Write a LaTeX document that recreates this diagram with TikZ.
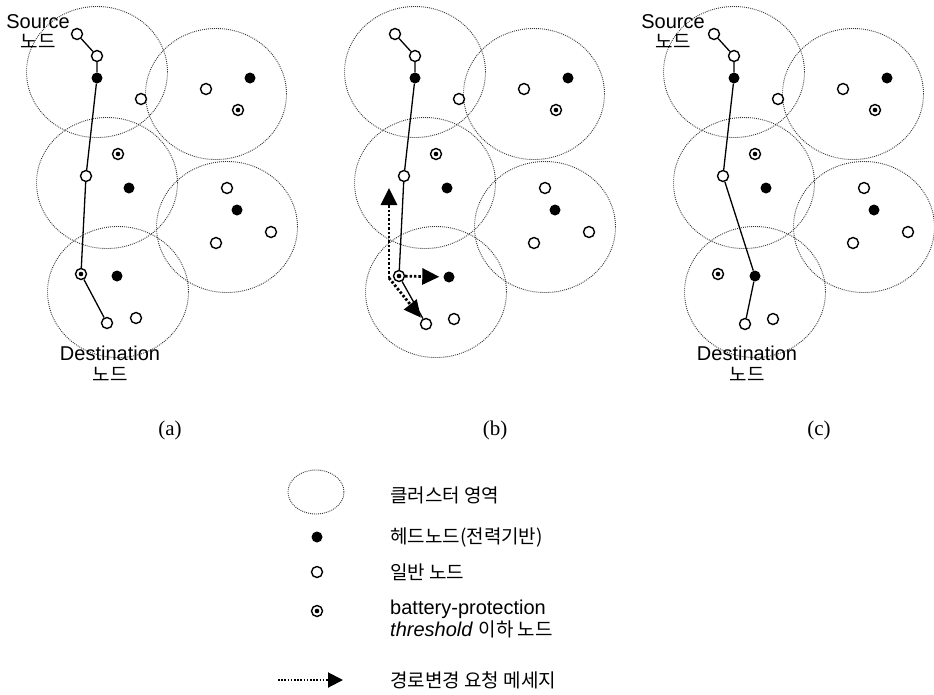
\documentclass[tikz,border=0pt]{standalone}
\usepackage{fontspec}
\setmainfont{Liberation Sans}
\newfontfamily\kr{Noto Sans CJK KR}
\newfontfamily\capfont{Liberation Serif}
\usetikzlibrary{shapes.geometric,arrows.meta,positioning}

\tikzset{
  cluster/.style={ellipse, draw=black!80, dash pattern=on 0.9pt off 1.1pt, line width=0.9pt, minimum width=141pt, minimum height=131pt, inner sep=0pt},
  opennode/.style={circle, draw, fill=white, line width=1.4pt, minimum size=11pt, inner sep=0pt},
  headnode/.style={circle, fill=black, minimum size=11pt, inner sep=0pt},
  lownode/.style={opennode, path picture={\fill[black] (path picture bounding box.center) circle (2.3pt);}},
  route/.style={line width=1.3pt},
  msg/.style={line width=2.8pt, dash pattern=on 2.4pt off 2pt, -{Triangle[length=17pt,width=16pt]}},
  legmsg/.style={line width=2pt, dash pattern=on 1.6pt off 1.6pt, -{Triangle[length=15pt,width=15pt]}},
  txt/.style={font=\fontsize{20}{20}\selectfont, inner sep=0pt},
  krtxt/.style={font=\kr\fontsize{19}{19}\selectfont, inner sep=0pt},
  captxt/.style={font=\capfont\fontsize{21}{21}\selectfont, inner sep=0pt},
}

\begin{document}
\begin{tikzpicture}[x=1pt, y=-1pt]
\useasboundingbox (0,0) rectangle (934,694);

% Panel (a)
\node[cluster] (a-c1) at (97,72) {};
\node[cluster] (a-c2) at (216,94) {};
\node[cluster] (a-c3) at (107,183) {};
\node[cluster] (a-c4) at (227,227) {};
\node[cluster] (a-c5) at (118,292) {};

\node[opennode] (a-s) at (77,34) {};
\node[opennode] (a-n1) at (97,56) {};
\node[headnode] (a-h1) at (97,78) {};
\node[opennode] (a-n2) at (141,99) {};
\node[headnode] (a-h2) at (250,78) {};
\node[opennode] (a-n3) at (206,89) {};
\node[lownode] (a-t1) at (238,110) {};
\node[lownode] (a-t2) at (118,154) {};
\node[opennode] (a-n4) at (86,176) {};
\node[headnode] (a-h3) at (129,188) {};
\node[opennode] (a-n5) at (227,188) {};
\node[headnode] (a-h4) at (237,210) {};
\node[opennode] (a-n6) at (271,232) {};
\node[opennode] (a-n7) at (216,243) {};
\node[lownode] (a-t3) at (81,274) {};
\node[headnode] (a-h5) at (117,276) {};
\node[opennode] (a-d) at (107,323) {};
\node[opennode] (a-n8) at (136,318) {};

\draw[route] (a-s) -- (a-n1) -- (a-h1) -- (a-n4) -- (a-t3) -- (a-d);

\node[txt] (a-src) at (38,22) {Source};
\node[krtxt, below=5pt of a-src] (a-srck) {노드};
\node[txt] (a-dst) at (110,353) {Destination};
\node[krtxt, below=6pt of a-dst] (a-dstk) {노드};

% Panel (b)
\begin{scope}[xshift=318pt]
\node[cluster] (b-c1) at (97,72) {};
\node[cluster] (b-c2) at (216,94) {};
\node[cluster] (b-c3) at (107,183) {};
\node[cluster] (b-c4) at (227,227) {};
\node[cluster] (b-c5) at (118,292) {};

\node[opennode] (b-s) at (77,34) {};
\node[opennode] (b-n1) at (97,56) {};
\node[headnode] (b-h1) at (97,78) {};
\node[opennode] (b-n2) at (141,99) {};
\node[headnode] (b-h2) at (250,78) {};
\node[opennode] (b-n3) at (206,89) {};
\node[lownode] (b-t1) at (238,110) {};
\node[lownode] (b-t2) at (118,154) {};
\node[opennode] (b-n4) at (86,176) {};
\node[headnode] (b-h3) at (129,188) {};
\node[opennode] (b-n5) at (227,188) {};
\node[headnode] (b-h4) at (237,210) {};
\node[opennode] (b-n6) at (271,232) {};
\node[opennode] (b-n7) at (216,243) {};
\node[lownode] (b-t3) at (81,276) {};
\node[headnode] (b-h5) at (131,277) {};
\node[opennode] (b-d) at (108,324) {};
\node[opennode] (b-n8) at (136,319) {};

\draw[route] (b-s) -- (b-n1) -- (b-h1) -- (b-n4) -- (b-t3) -- (b-d);

% route change request
\coordinate (b-k) at (71,278);
\coordinate (b-up) at (71,188);
\draw[msg] (b-k) -- (b-up);
\draw[msg, shorten >=4pt] (b-t3) -- (b-h5);
\draw[msg, shorten >=2pt] (b-k) -- (b-d);
\end{scope}

% Panel (c)
\begin{scope}[xshift=637pt]
\node[cluster] (c-c1) at (97,72) {};
\node[cluster] (c-c2) at (216,94) {};
\node[cluster] (c-c3) at (107,183) {};
\node[cluster] (c-c4) at (227,227) {};
\node[cluster] (c-c5) at (118,292) {};

\node[opennode] (c-s) at (77,34) {};
\node[opennode] (c-n1) at (97,56) {};
\node[headnode] (c-h1) at (97,78) {};
\node[opennode] (c-n2) at (141,99) {};
\node[headnode] (c-h2) at (250,78) {};
\node[opennode] (c-n3) at (206,89) {};
\node[lownode] (c-t1) at (238,110) {};
\node[lownode] (c-t2) at (118,154) {};
\node[opennode] (c-n4) at (86,176) {};
\node[headnode] (c-h3) at (129,188) {};
\node[opennode] (c-n5) at (227,188) {};
\node[headnode] (c-h4) at (237,210) {};
\node[opennode] (c-n6) at (271,232) {};
\node[opennode] (c-n7) at (216,243) {};
\node[lownode] (c-t3) at (81,274) {};
\node[headnode] (c-h5) at (118,276) {};
\node[opennode] (c-d) at (108,324) {};
\node[opennode] (c-n8) at (136,319) {};

\draw[route] (c-s) -- (c-n1) -- (c-h1) -- (c-n4) -- (c-h5) -- (c-d);

\node[txt] (c-src) at (36,22) {Source};
\node[krtxt, below=5pt of c-src] (c-srck) {노드};
\node[txt] (c-dst) at (110,353) {Destination};
\node[krtxt, below=6pt of c-dst] (c-dstk) {노드};
\end{scope}

% Captions
\node[captxt] (cap-a) at (170,430) {(a)};
\node[captxt] (cap-b) at (495,430) {(b)};
\node[captxt] (cap-c) at (819,430) {(c)};

% Legend
\node[cluster, minimum width=56pt, minimum height=44pt] (lg-c) at (316,492) {};
\node[headnode] (lg-h) at (317,537) {};
\node[opennode] (lg-o) at (317,572) {};
\node[lownode] (lg-w) at (317,611) {};
\coordinate (lg-a1) at (278,680);
\coordinate (lg-a2) at (343,680);
\draw[legmsg] (lg-a1) -- (lg-a2);

\node[krtxt, anchor=west] (lg-ct) at (390,495) {클러스터 영역};
\node[krtxt, anchor=west] (lg-ht) at (390,537) {헤드노드(전력기반)};
\node[krtxt, anchor=west] (lg-ot) at (390,572) {일반 노드};
\node[txt, anchor=west, align=left, font=\fontsize{20}{22}\selectfont] (lg-wt) at (390,619) {battery-protection\\\textit{threshold} {\kr\fontsize{19}{19}\selectfont 이하 노드}};
\node[krtxt, anchor=west] (lg-at) at (390,680) {경로변경 요청 메세지};
\end{tikzpicture}
\end{document}
